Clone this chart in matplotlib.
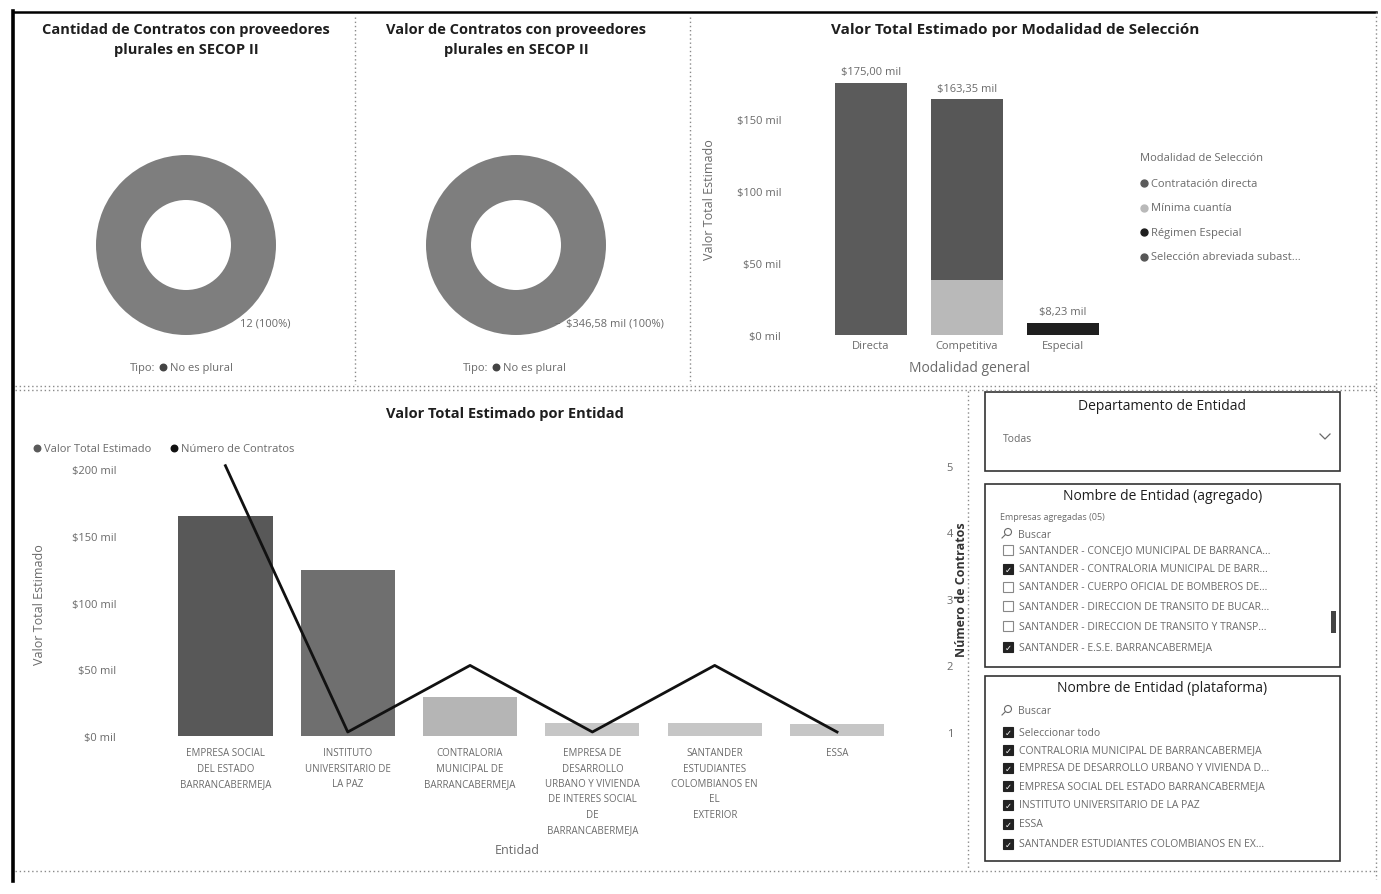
import matplotlib
matplotlib.use("Agg")
import matplotlib.pyplot as plt
from matplotlib.patches import Rectangle, Circle
import numpy as np

plt.rcParams['font.family'] = ['Open Sans', 'DejaVu Sans']

# ---------------- data ----------------
tipo_labels = ["No es plural"]
cantidad_contratos = [12]
valor_contratos = [346.58]

modalidad_general = ["Directa", "Competitiva", "Especial"]
contratacion_directa = [175.00, 0, 0]
minima_cuantia = [0, 38.00, 0]
regimen_especial = [0, 0, 8.23]
seleccion_abreviada = [0, 125.35, 0]
modalidad_series = ["Contratación directa", "Mínima cuantía", "Régimen Especial",
                    "Selección abreviada subast..."]

entidades = ["EMPRESA SOCIAL\nDEL ESTADO\nBARRANCABERMEJA",
             "INSTITUTO\nUNIVERSITARIO DE\nLA PAZ",
             "CONTRALORIA\nMUNICIPAL DE\nBARRANCABERMEJA",
             "EMPRESA DE\nDESARROLLO\nURBANO Y VIVIENDA\nDE INTERES SOCIAL\nDE\nBARRANCABERMEJA",
             "SANTANDER\nESTUDIANTES\nCOLOMBIANOS EN\nEL\nEXTERIOR",
             "ESSA"]
valor_entidad = [165.0, 124.0, 29.0, 9.5, 10.0, 9.08]
numero_contratos = [5, 1, 2, 1, 2, 1]

departamento_sel = "Todas"
agregado_items = ["SANTANDER - CONCEJO MUNICIPAL DE BARRANCA...",
                  "SANTANDER - CONTRALORIA MUNICIPAL DE BARR...",
                  "SANTANDER - CUERPO OFICIAL DE BOMBEROS DE...",
                  "SANTANDER - DIRECCION DE TRANSITO DE BUCAR...",
                  "SANTANDER - DIRECCION DE TRANSITO Y TRANSP...",
                  "SANTANDER - E.S.E. BARRANCABERMEJA"]
agregado_checked = [False, True, False, False, False, True]
plataforma_items = ["Seleccionar todo",
                    "CONTRALORIA MUNICIPAL DE BARRANCABERMEJA",
                    "EMPRESA DE DESARROLLO URBANO Y VIVIENDA D...",
                    "EMPRESA SOCIAL DEL ESTADO BARRANCABERMEJA",
                    "INSTITUTO UNIVERSITARIO DE LA PAZ",
                    "ESSA",
                    "SANTANDER ESTUDIANTES COLOMBIANOS EN EX..."]
plataforma_checked = [True] * 7

# ---------------- layout helpers ----------------
W, H = 1381, 895
fig = plt.figure(figsize=(W / 100, H / 100), dpi=100)
fig.patch.set_facecolor("white")


def rect(x0, y0, x1, y1):
    return [x0 / W, 1 - y1 / H, (x1 - x0) / W, (y1 - y0) / H]


def ftext(x, y, s, **kw):
    fig.text(x / W, 1 - y / H, s, **kw)


bg = fig.add_axes([0, 0, 1, 1])
bg.set_xlim(0, W)
bg.set_ylim(H, 0)
bg.axis("off")

GRAY = "#6a6a6a"
DARK = "#1e1e1e"

# frame and panel separators
bg.plot([13, 13], [12, 882], color="black", lw=2.6)
bg.plot([13, 1376], [13, 13], color="black", lw=1.8)
for xs, ys in [([355, 355], [18, 385]), ([690, 690], [18, 385]),
               ([1376, 1376], [13, 880]), ([968, 968], [392, 870]),
               ([15, 1376], [387, 387]), ([15, 1376], [391, 391]),
               ([15, 1376], [872, 872])]:
    bg.plot(xs, ys, color="#8a8a8a", lw=1.0, ls=(0, (1, 2)))

# ---------------- donut panels ----------------
donut_color = "#7e7e7e"


def donut(cx, cy, r, values, title, label, lx, legend_x):
    ax = fig.add_axes(rect(cx - r, cy - r, cx + r, cy + r))
    ax.pie(values, colors=[donut_color], startangle=90,
           wedgeprops=dict(width=0.5, edgecolor="none"), radius=1)
    ax.set_xlim(-1, 1)
    ax.set_ylim(-1, 1)
    ax.set_aspect("auto")
    bg.text(cx, 40, title, ha="center", va="center", fontsize=10.5,
            fontweight="bold", color=DARK, linespacing=1.6)
    ftext(lx, 324, label, ha="left", va="center", fontsize=8, color=GRAY)
    bg.text(legend_x, 368, "Tipo:", ha="left", va="center", fontsize=8, color=GRAY)
    bg.scatter([legend_x + 33], [368], s=22, color="#444444")
    bg.text(legend_x + 40, 368, tipo_labels[0], ha="left", va="center",
            fontsize=8, color=GRAY)


donut(186, 246, 90, cantidad_contratos,
      "Cantidad de Contratos con proveedores\nplurales en SECOP II",
      f"{cantidad_contratos[0]} (100%)", 240, 130)
donut(516, 246, 90, valor_contratos,
      "Valor de Contratos con proveedores\nplurales en SECOP II",
      "$" + f"{valor_contratos[0]:.2f}".replace(".", ",") + " mil (100%)", 566, 463)
ftext(555, 324, "–", ha="left", va="center", fontsize=8, color=GRAY)

# ---------------- Modalidad chart ----------------
axm = fig.add_axes(rect(795, 62, 1130, 336))
xm = np.arange(len(modalidad_general))
bw = 0.75
c_dir, c_min, c_reg, c_sel = "#5b5b5b", "#b9b9b9", "#1f1f1f", "#575757"
axm.bar(xm, contratacion_directa, bw, color=c_dir)
axm.bar(xm, minima_cuantia, bw, color=c_min)
axm.bar(xm, regimen_especial, bw, color=c_reg,
        bottom=np.array(minima_cuantia) + np.array(contratacion_directa))
axm.bar(xm, seleccion_abreviada, bw, color=c_sel,
        bottom=np.array(minima_cuantia) + np.array(contratacion_directa) + np.array(regimen_especial))
tot = np.array(contratacion_directa) + np.array(minima_cuantia) + np.array(regimen_especial) + np.array(seleccion_abreviada)
for i, t in enumerate(tot):
    axm.text(i, t + 4, "$" + f"{t:.2f}".replace(".", ",") + " mil", ha="center",
             va="bottom", fontsize=8, color=GRAY)
axm.set_ylim(0, 190)
axm.set_xlim(-0.79, 2.70)
axm.set_yticks([0, 50, 100, 150])
axm.set_yticklabels([f"${v} mil" for v in [0, 50, 100, 150]])
axm.set_xticks(xm)
axm.set_xticklabels(modalidad_general)
axm.tick_params(length=0, labelsize=8, labelcolor=GRAY)
axm.tick_params(axis="y", pad=10)
for s in axm.spines.values():
    s.set_visible(False)
axm.patch.set_alpha(0)
bg.text(1015, 30, "Valor Total Estimado por Modalidad de Selección", ha="center",
        va="center", fontsize=11, fontweight="bold", color=DARK)
bg.text(710, 200, "Valor Total Estimado", rotation=90, ha="center", va="center",
        fontsize=9, color=GRAY)
bg.text(970, 368, "Modalidad general", ha="center", va="center", fontsize=10, color=GRAY)
bg.text(1140, 158, "Modalidad de Selección", ha="left", va="center", fontsize=8, color=GRAY)
for i, (nm, col) in enumerate(zip(modalidad_series, [c_dir, c_min, c_reg, c_sel])):
    yy = 184 + i * 24.5
    bg.scatter([1144], [yy], s=25, color=col)
    bg.text(1151, yy, nm, ha="left", va="center", fontsize=8, color=GRAY)

# ---------------- Entidad chart ----------------
axe = fig.add_axes(rect(130, 460, 930, 737))
xe = np.arange(len(entidades))
bar_cols = ["#585858", "#6f6f6f", "#b5b5b5", "#c6c6c6", "#c6c6c6", "#c6c6c6"]
axe.bar(xe, valor_entidad, 0.77, color=bar_cols)
axe.set_ylim(0, 207.5)
axe.set_xlim(-0.78, 5.76)
axe.set_yticks([0, 50, 100, 150, 200])
axe.set_yticklabels([f"${v} mil" for v in [0, 50, 100, 150, 200]])
axe.set_xticks(xe)
axe.set_xticklabels(entidades, fontsize=7, linespacing=1.55)
axe.tick_params(length=0, labelsize=8, labelcolor=GRAY)
axe.tick_params(axis="y", pad=10)
axe.tick_params(axis="x", labelsize=7, pad=8)
for s in axe.spines.values():
    s.set_visible(False)
axe.patch.set_alpha(0)

ax2 = axe.twinx()
ax2.plot(xe, numero_contratos, color="#111111", lw=2)
ax2.set_ylim(1 + (0 - 3) * 0.02005, 1 + (207.5 - 3) * 0.02005)
ax2.set_yticks([1, 2, 3, 4, 5])
ax2.tick_params(length=0, labelsize=8, labelcolor=GRAY, pad=12)
for s in ax2.spines.values():
    s.set_visible(False)

bg.text(505, 414, "Valor Total Estimado por Entidad", ha="center", va="center",
        fontsize=10.5, fontweight="bold", color=DARK)
bg.scatter([37], [449], s=22, color="#5a5a5a")
bg.text(44, 449, "Valor Total Estimado", ha="left", va="center", fontsize=8, color=GRAY)
bg.scatter([174], [449], s=22, color="#111111")
bg.text(181, 449, "Número de Contratos", ha="left", va="center", fontsize=8, color=GRAY)
bg.text(40, 605, "Valor Total Estimado", rotation=90, ha="center", va="center",
        fontsize=9, color=GRAY)
bg.text(962, 590, "Número de Contratos", rotation=90, ha="center", va="center",
        fontsize=9, fontweight="bold", color="#333333")
bg.text(517, 851, "Entidad", ha="center", va="center", fontsize=9, color=GRAY)

# ---------------- slicers ----------------
def box(x0, y0, x1, y1, title, ty):
    bg.add_patch(Rectangle((x0, y0), x1 - x0, y1 - y0, fill=False,
                           edgecolor="#333333", lw=1.2))
    bg.text((x0 + x1) / 2, ty, title, ha="center", va="center", fontsize=10,
            color=DARK)


def search(y):
    bg.add_patch(Circle((1008, y - 2), 3.5, fill=False, edgecolor=GRAY, lw=0.8))
    bg.plot([1005, 1002], [y + 1, y + 4], color=GRAY, lw=0.8)
    bg.text(1018, y, "Buscar", ha="left", va="center", fontsize=7.5, color=GRAY)


def items(names, checked, ys):
    for nm, ck, yy in zip(names, checked, ys):
        if ck:
            bg.add_patch(Rectangle((1003, yy - 5), 10, 10, facecolor="#222222",
                                   edgecolor="#222222", lw=0.8))
            bg.text(1008, yy, "✓", ha="center", va="center", fontsize=6,
                    color="white", family="DejaVu Sans")
        else:
            bg.add_patch(Rectangle((1003, yy - 5), 10, 10, fill=False,
                                   edgecolor="#888888", lw=0.8))
        bg.text(1019, yy, nm, ha="left", va="center", fontsize=7.5, color=GRAY)


box(985, 393, 1340, 472, "Departamento de Entidad", 407)
bg.text(1003, 440, departamento_sel, ha="left", va="center", fontsize=7.5, color=GRAY)
bg.plot([1320, 1325, 1330], [435, 440, 435], color=GRAY, lw=0.9)

box(985, 485, 1340, 668, "Nombre de Entidad (agregado)", 497)
bg.text(1000, 517, "Empresas agregadas (05)", ha="left", va="center", fontsize=6.5,
        color=GRAY)
search(535)
items(agregado_items, agregado_checked, [551, 570, 588, 607, 627, 648])
bg.add_patch(Rectangle((1331, 612), 5, 22, facecolor="#444444", edgecolor="none"))

box(985, 677, 1340, 862, "Nombre de Entidad (plataforma)", 689)
search(712)
items(plataforma_items, plataforma_checked, [733, 751, 769, 787, 806, 825, 845])

fig.savefig("out.png", dpi=100, facecolor="white")
